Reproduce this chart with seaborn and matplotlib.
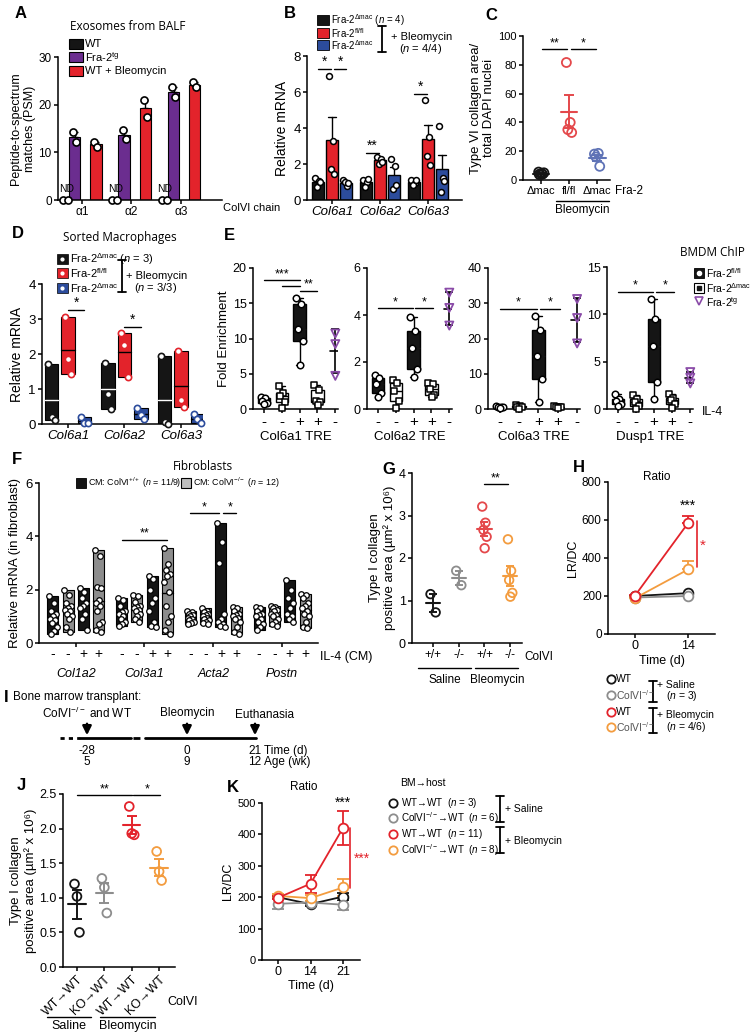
import numpy as np
import pandas as pd
import matplotlib.pyplot as plt
import seaborn as sns
from matplotlib.patches import Rectangle

# ---------------- data ----------------
# A: exosomes from BALF (PSM)
chains = ['α1', 'α2', 'α3']
a_wt_pts = [[0, 0], [0, 0], [0, 0]]
a_tg_pts = [[14.2, 12.2], [14.7, 12.7], [23.7, 21.7]]
a_bleo_pts = [[12.2, 11.2], [21.0, 17.4], [24.7, 23.7]]

# B: relative mRNA (whole lung)
genes_b = ['Col6a1', 'Col6a2', 'Col6a3']
b_dmac = [[1.2, 1.05, 0.75, 1.0], [1.1, 1.0, 0.75, 1.15], [1.1, 0.95, 0.85, 1.1]]
b_flfl_bleo = [[6.9, 3.3, 1.74, 1.44], [2.4, 2.3, 2.0, 2.1], [5.55, 3.5, 2.46, 1.96]]
b_dmac_bleo = [[1.1, 0.8, 1.0, 0.95], [2.3, 1.9, 0.6, 0.85], [4.1, 1.2, 0.42, 1.08]]

# C: type VI collagen area
c_labels = ['Δmac', 'fl/fl', 'Δmac']
c_dmac = [5.5, 4.0, 3.5, 5.0, 4.5, 4.0]
c_flfl_bleo = [81.6, 40.0, 35.0, 33.0]
c_dmac_bleo = [18.0, 18.5, 16.0, 9.5]

# D: sorted macrophages
d_dmac = [[1.72, 0.19, 0.11], [1.75, 0.85, 0.43], [1.95, 0.06, 0.01]]
d_flfl_bleo = [[3.05, 1.85, 1.43], [2.6, 2.27, 1.33], [2.1, 0.7, 0.48]]
d_dmac_bleo = [[0.2, 0.03, 0.03], [0.45, 0.27, 0.15], [0.28, 0.15, 0.02]]

# E: BMDM ChIP (fl/fl -, dmac -, fl/fl +, dmac +, tg -)
e_signs = ['-', '-', '+', '+', '-']
e_col6a1 = [[1.7, 1.5, 1.2, 0.9, 0.7], [3.2, 2.3, 1.8, 1.0, 0.2], [15.7, 14.9, 11.4, 9.6, 6.2],
            [3.4, 2.7, 1.2, 1.0, 0.5], [10.7, 4.7, 9.2]]
e_col6a2 = [[1.43, 1.3, 1.05, 0.7, 0.5], [1.25, 1.1, 0.75, 0.35, 0.05], [3.9, 3.3, 2.6, 1.7, 1.35],
            [1.1, 1.05, 0.85, 0.6, 0.5], [4.95, 3.55, 4.3]]
e_col6a3 = [[0.8, 0.7, 0.6, 0.5, 0.4], [1.0, 0.8, 0.6, 0.5, 0.1], [26.5, 22.5, 14.9, 8.5, 1.9],
            [0.9, 0.7, 0.6, 0.5, 0.3], [31.2, 18.6, 25.8]]
e_dusp1 = [[1.6, 1.1, 0.8, 0.5, 0.3], [1.5, 1.1, 0.7, 0.3, 0.05], [11.6, 9.5, 6.7, 2.9, 1.1],
           [1.6, 1.2, 0.9, 0.5, 0.1], [3.9, 2.7, 3.3]]

# F: fibroblasts (ColVI+/+ -, ColVI-/- -, ColVI+/+ +, ColVI-/- +)
genes_f = ['Col1a2', 'Col3a1', 'Acta2', 'Postn']
f_signs = ['-', '-', '+', '+']
f_col1a2 = [[1.78, 1.5, 1.2, 1.1, 1.0, 0.9, 0.85, 0.75, 0.6, 0.45, 0.35],
            [2.0, 1.8, 1.5, 1.4, 1.3, 1.25, 1.2, 1.1, 1.0, 0.9, 0.6, 0.4],
            [2.05, 1.9, 1.7, 1.5, 1.4, 1.3, 1.1, 0.9, 0.5],
            [3.5, 3.25, 2.1, 2.05, 1.6, 1.5, 1.4, 1.2, 0.8, 0.7, 0.5, 0.4]]
f_col3a1 = [[1.7, 1.6, 1.4, 1.2, 1.15, 1.1, 1.0, 0.9, 0.8, 0.7, 0.65],
            [1.8, 1.75, 1.55, 1.4, 1.35, 1.3, 1.25, 1.2, 1.1, 1.0, 0.9, 0.8],
            [2.5, 2.4, 2.0, 1.7, 1.5, 1.2, 0.8, 0.65, 0.6],
            [3.55, 2.95, 2.75, 2.6, 2.5, 2.3, 1.9, 1.4, 1.0, 0.8, 0.5, 0.35]]
f_acta2 = [[1.2, 1.15, 1.1, 1.05, 1.0, 0.95, 0.9, 0.85, 0.8, 0.75, 0.7],
           [1.3, 1.2, 1.15, 1.1, 1.05, 1.0, 0.95, 0.9, 0.85, 0.8, 0.75, 0.7],
           [4.5, 3.8, 3.0, 1.1, 0.9, 0.8, 0.7, 0.65, 0.6],
           [1.35, 1.3, 1.2, 1.1, 1.05, 1.0, 0.95, 0.9, 0.8, 0.6, 0.4, 0.35]]
f_postn = [[1.35, 1.3, 1.2, 1.1, 1.05, 1.0, 0.9, 0.8, 0.7, 0.6, 0.5],
           [1.4, 1.35, 1.3, 1.25, 1.2, 1.1, 1.05, 1.0, 0.9, 0.8, 0.7, 0.65],
           [2.35, 2.0, 1.7, 1.5, 1.3, 1.1, 1.0, 0.9, 0.8],
           [1.85, 1.8, 1.7, 1.5, 1.4, 1.3, 1.2, 1.1, 1.0, 0.8, 0.6, 0.55]]

# G: type I collagen, ColVI KO mice
g_labels = ['+/+', '-/-', '+/+', '-/-']
g_wt_saline = [1.15, 0.72]
g_ko_saline = [1.70, 1.36]
g_wt_bleo = [3.21, 2.83, 2.66, 2.50, 2.23]
g_ko_bleo = [2.44, 1.70, 1.48, 1.18, 1.09]

# H: LR/DC ratio
h_times = ['0', '14']
h_wt_saline = [200, 215]
h_ko_saline = [192, 200]
h_wt_bleo = [200, 585]
h_ko_bleo = [188, 340]
h_sem_wt_bleo = [5, 35]
h_sem_ko_bleo = [5, 45]

# J: type I collagen, BM transplant
j_labels = ['WT→WT', 'KO→WT', 'WT→WT', 'KO→WT']
j_wt_saline = [1.20, 1.02, 0.50]
j_ko_saline = [1.28, 1.15, 0.78]
j_wt_bleo = [2.32, 1.93, 1.91]
j_ko_bleo = [1.67, 1.38, 1.25]

# K: LR/DC ratio, BM transplant
k_times = ['0', '14', '21']
k_wt_saline = [200, 178, 202]
k_ko_saline = [179, 183, 176]
k_wt_bleo = [198, 243, 421]
k_ko_bleo = [204, 197, 231]
k_sem_wt_saline = [4, 5, 12]
k_sem_ko_saline = [15, 5, 17]
k_sem_wt_bleo = [5, 29, 55]
k_sem_ko_bleo = [5, 10, 28]

# ---------------- style ----------------
sns.set_style("ticks")
plt.rcParams['font.family'] = ['Liberation Sans', 'DejaVu Sans']
plt.rcParams['mathtext.fontset'] = 'custom'
plt.rcParams['mathtext.rm'] = 'Liberation Sans'
plt.rcParams['mathtext.it'] = 'Liberation Sans:italic'
plt.rcParams['mathtext.bf'] = 'Liberation Sans:bold'
for k in ['text.color', 'axes.labelcolor', 'xtick.color', 'ytick.color', 'axes.edgecolor']:
    plt.rcParams[k] = 'black'
plt.rcParams['axes.linewidth'] = 1.1
plt.rcParams['xtick.major.width'] = 1.1
plt.rcParams['ytick.major.width'] = 1.1
plt.rcParams['xtick.major.size'] = 3
plt.rcParams['ytick.major.size'] = 3
plt.rcParams['xtick.major.pad'] = 1.5
plt.rcParams['ytick.major.pad'] = 1.5

BLK = '#151515'
PURPLE = '#6b2d8f'
RED = '#e3232b'
BLUE = '#2c4c9c'
GRAY = '#8d8d8d'
LRED = '#e4484b'
LBLUE = '#5f73b6'
ORANGE = '#f39c3f'
TRI = '#8a4ba8'
TITLE_FONT = ['Open Sans', 'DejaVu Sans']

W, H = 753, 1036
fig = plt.figure(figsize=(W / 100, H / 100), dpi=100)

ov = fig.add_axes([0, 0, 1, 1])
ov.set_xlim(0, W)
ov.set_ylim(H, 0)
ov.axis('off')
ov.set_zorder(10)


def axpx(x0, y0, x1, y1, fs=9):
    ax = fig.add_axes([x0 / W, 1 - y1 / H, (x1 - x0) / W, (y1 - y0) / H])
    ax.set_facecolor('none')
    sns.despine(ax=ax)
    ax.tick_params(labelsize=fs)
    return ax


def sup(base, s):
    return base + r'$^{\mathrm{' + s + '}}$'


def spread(n, w):
    if n == 1:
        return np.zeros(1)
    if n <= 3:
        return np.linspace(-w / 2, w / 2, n)
    o = (np.arange(n) * 0.618034) % 1
    return (o - o.mean()) * w


def sig(ax, x0, x1, y, txt, color='black', fs=9):
    ax.plot([x0, x1], [y, y], color=color, lw=1, clip_on=False)
    if txt:
        ax.text((x0 + x1) / 2, y, txt, ha='center', va='bottom', fontsize=fs, color=color)


def T(x, y, s, **kw):
    kw.setdefault('va', 'center')
    kw.setdefault('fontsize', 8)
    ov.text(x, y, s, **kw)


def bracket(x, y0, y1, w=4):
    ov.plot([x, x], [y0, y1], color='black', lw=1.3)
    ov.plot([x - w, x + w], [y0, y0], color='black', lw=1.3)
    ov.plot([x - w, x + w], [y1, y1], color='black', lw=1.3)


def open_pts(ax, x, y, c, s=36, marker='o', lw=1.3):
    sns.scatterplot(x=np.asarray(x, float), y=np.asarray(y, float), ax=ax, marker=marker, color=c,
                    facecolor='none', edgecolor=c, linewidth=lw, s=s, zorder=4, clip_on=False, legend=False)


def white_pts(ax, x, y, ec='black', s=22, marker='o', lw=1.0):
    sns.scatterplot(x=np.asarray(x, float), y=np.asarray(y, float), ax=ax, marker=marker, color='white',
                    edgecolor=ec, linewidth=lw, s=s, zorder=4, clip_on=False, legend=False)


def mean_sem(ax, i, vals, c, mw=0.27, cap=3):
    v = np.asarray(vals, float)
    m, se = v.mean(), v.std(ddof=1) / np.sqrt(len(v))
    ax.plot([i - mw, i + mw], [m, m], color=c, lw=1.5, zorder=3)
    ax.errorbar(i, m, yerr=se, fmt='none', ecolor=c, elinewidth=1.4, capsize=cap, capthick=1.4, zorder=3)


def float_bar(ax, x, vals, w, fc, line_c=None, ec='black'):
    lo, hi = min(vals), max(vals)
    ax.bar(x, hi - lo, bottom=lo, width=w, color=fc, edgecolor=ec, lw=0.8, zorder=2)
    if line_c:
        ax.plot([x - w / 2, x + w / 2], [np.mean(vals)] * 2, color=line_c, lw=1, zorder=2.5)


# ---------------- A ----------------
axA = axpx(58, 57, 222, 200, fs=8.5)
xA = np.arange(len(chains))
offA = [-0.34, -0.15, 0.28]
for off, pts, col in [(offA[1], a_tg_pts, PURPLE), (offA[2], a_bleo_pts, RED)]:
    p = np.array(pts)
    m = p.mean(1)
    se = p.std(1, ddof=1) / np.sqrt(p.shape[1])
    axA.bar(xA + off, m, width=0.23, color=col, edgecolor='black', lw=0.8, zorder=2)
    axA.errorbar(xA + off, m, yerr=[np.zeros(3), se], fmt='none', ecolor='black', elinewidth=1,
                 capsize=2.5, capthick=1, zorder=1.8)
    for i in range(3):
        white_pts(axA, xA[i] + off + np.array([-0.03, 0.03]), p[i], s=26, lw=1.2)
for i in range(3):
    white_pts(axA, xA[i] + offA[0] + np.array([-0.05, 0.05]), a_wt_pts[i], s=26, lw=1.2)
    axA.text(xA[i] + offA[0] + 0.02, 1.3, 'ND', ha='center', va='bottom', fontsize=7.5)
axA.set_xlim(-0.485, 2.83)
axA.set_ylim(0, 30)
axA.set_yticks([0, 10, 20, 30])
axA.set_xticks(xA)
axA.set_xticklabels(chains)
axA.set_ylabel('Peptide-to-spectrum\nmatches (PSM)', fontsize=9, labelpad=2)
T(223, 208, 'ColVI chain', fontsize=8)
T(128, 26, 'Exosomes from BALF', ha='center', fontsize=8.5, family=TITLE_FONT)
for y, c, lab in [(44, BLK, 'WT'), (57, PURPLE, sup('Fra-2', 'tg')), (71, RED, 'WT + Bleomycin')]:
    ov.add_patch(Rectangle((69, y - 5), 14, 10, facecolor=c, edgecolor='black', lw=0.8))
    T(85, y, lab, fontsize=8)

# ---------------- B ----------------
axB = axpx(307, 56, 462, 200, fs=9.5)
b_keys = ['ctrl', 'flfl', 'dmac']
rows = []
for gi, g in enumerate(genes_b):
    for key, vals in zip(b_keys, [b_dmac, b_flfl_bleo, b_dmac_bleo]):
        for v in vals[gi]:
            rows.append((g, key, v))
dfB = pd.DataFrame(rows, columns=['gene', 'grp', 'val'])
sns.barplot(data=dfB, x='gene', y='val', hue='grp', order=genes_b, hue_order=b_keys,
            palette=dict(zip(b_keys, [BLK, RED, BLUE])), width=0.875, gap=0.2, errorbar='se',
            capsize=0.45, err_kws={'color': 'black', 'linewidth': 1, 'zorder': 0.5},
            edgecolor='black', linewidth=1, saturation=1, legend=False, ax=axB)
for gi in range(3):
    for k, vals in enumerate([b_dmac, b_flfl_bleo, b_dmac_bleo]):
        v = vals[gi]
        white_pts(axB, gi + (k - 1) * 0.875 / 3 + spread(len(v), 0.12), v, s=18, lw=1.1)
axB.set_xlim(-0.52, 2.71)
axB.set_ylim(0, 8)
axB.set_yticks([0, 2, 4, 6, 8])
axB.set_xticks(range(3))
axB.set_xticklabels(genes_b, style='italic', fontsize=9.5)
axB.set_xlabel('')
axB.set_ylabel('Relative mRNA', fontsize=10, labelpad=3)
sig(axB, -0.29, -0.03, 7.3, '*', fs=10)
sig(axB, 0.05, 0.29, 7.3, '*', fs=10)
sig(axB, 0.71, 0.98, 2.6, '**', fs=10)
sig(axB, 1.71, 1.98, 5.9, '*', fs=10)
for y, c, lab in [(20, BLK, sup('Fra-2', 'Δmac') + r' ($n$ = 4)'), (33, RED, sup('Fra-2', 'fl/fl')),
                  (45, BLUE, sup('Fra-2', 'Δmac'))]:
    ov.add_patch(Rectangle((317, y - 5), 12, 10, facecolor=c, edgecolor='black', lw=0.6))
    T(331, y, lab, fontsize=7)
bracket(382, 26, 52)
T(391, 37, '+ Bleomycin', fontsize=8)
T(399, 49, r'($n$ = 4/4)', fontsize=8)

# ---------------- C ----------------
axC = axpx(523, 36, 610, 180, fs=8)
for i, (vals, c) in enumerate([(c_dmac, BLK), (c_flfl_bleo, LRED), (c_dmac_bleo, LBLUE)]):
    open_pts(axC, i + spread(len(vals), 0.22), vals, c, s=42)
    mean_sem(axC, i, vals, c, mw=0.3, cap=3.5)
axC.set_xlim(-0.64, 2.46)
axC.set_ylim(0, 100)
axC.set_yticks(range(0, 101, 20))
axC.set_xticks(range(3))
axC.set_xticklabels(c_labels, fontsize=8)
axC.set_ylabel('Type VI collagen area/\ntotal DAPI nuclei', fontsize=9.5, labelpad=2)
sig(axC, 0.05, 0.93, 91, '**')
sig(axC, 1.07, 1.96, 91, '*')
T(615, 191, 'Fra-2', fontsize=8.5)
ov.plot([556, 609], [201, 201], color='black', lw=1)
T(582, 210, 'Bleomycin', ha='center', fontsize=8.5)

# ---------------- D ----------------
axD = axpx(42, 284, 203, 424, fs=9.5)
wD = 0.24
for gi in range(3):
    for k, (vals, c, lc) in enumerate([(d_dmac, BLK, 'white'), (d_flfl_bleo, RED, 'black'),
                                       (d_dmac_bleo, BLUE, 'black')]):
        x = gi + (k - 1) * 0.29
        float_bar(axD, x, vals[gi], wD, c, lc)
        white_pts(axD, x + spread(3, 0.12), vals[gi], ec=c, s=20, lw=1.2)
axD.set_xlim(-0.46, 2.39)
axD.set_ylim(0, 4)
axD.set_yticks(range(5))
axD.set_xticks(range(3))
axD.set_xticklabels(genes_b, style='italic', fontsize=9.5)
axD.set_ylabel('Relative mRNA', fontsize=10, labelpad=3)
sig(axD, 0.0, 0.29, 3.26, '*', fs=10)
sig(axD, 1.0, 1.29, 2.77, '*', fs=10)
T(120, 238, 'Sorted Macrophages', ha='center', fontsize=8.5, family=TITLE_FONT)
for y, c, lab in [(259, BLK, sup('Fra-2', 'Δmac') + r' ($n$ = 3)'), (273, RED, sup('Fra-2', 'fl/fl')),
                  (288, BLUE, sup('Fra-2', 'Δmac'))]:
    ov.add_patch(Rectangle((57, y - 5), 11, 10, facecolor=c, edgecolor='black', lw=0.5))
    ov.plot(62.5, y, 'o', ms=2, color='white')
    T(70, y, lab, fontsize=8)
bracket(122, 260, 292)
T(126, 276, '+ Bleomycin', fontsize=8)
T(134, 288, r'($n$ = 3/3)', fontsize=8)

# ---------------- E ----------------
e_pos = ['p0', 'p1', 'p2', 'p3', 'p4']


def e_panel(ax, groups, ymax, yticks, title, sigs):
    rows = [(e_pos[i], v) for i, g in enumerate(groups[:4]) for v in g]
    df = pd.DataFrame(rows, columns=['pos', 'val'])
    sns.boxplot(data=df[df.pos.isin(['p0', 'p2'])], x='pos', y='val', order=e_pos, color=BLK,
                linecolor='black', linewidth=1, width=0.68, whis=(0, 100), fliersize=0,
                saturation=1, medianprops={'color': BLK}, ax=ax)
    sns.boxplot(data=df[df.pos.isin(['p1', 'p3'])], x='pos', y='val', order=e_pos, color='white',
                linecolor='black', linewidth=1, width=0.68, whis=(0, 100), fliersize=0,
                saturation=1, ax=ax)
    for i, g in enumerate(groups[:4]):
        white_pts(ax, i + spread(len(g), 0.4), g, marker='o' if i % 2 == 0 else 's', s=22, lw=1.1)
    tg = np.array(groups[4], float)
    open_pts(ax, [4] * len(tg), tg, TRI, s=34, marker='v', lw=1.3)
    m, sd = tg.mean(), tg.std(ddof=1)
    ax.plot([3.7, 4.3], [m, m], color='black', lw=1.2, zorder=3)
    ax.errorbar(4, m, yerr=sd, fmt='none', ecolor='black', elinewidth=1.2, capsize=3, capthick=1.2, zorder=3)
    ax.set_xlim(-0.6, 4.15)
    ax.set_ylim(0, ymax)
    ax.set_yticks(yticks)
    ax.set_xticks(range(5))
    ax.set_xticklabels(e_signs, fontsize=11)
    ax.set_xlabel(title, fontsize=9.5, labelpad=1)
    ax.set_ylabel('')
    for x0, x1, y, t in sigs:
        sig(ax, x0, x1, y, t)


axE1 = axpx(253, 268, 338, 409)
e_panel(axE1, e_col6a1, 20, [0, 5, 10, 15, 20], 'Col6a1 TRE',
        [(0, 2, 18.3, '***'), (1, 2, 17.5, ''), (2.05, 3, 16.8, '**')])
axE1.set_ylabel('Fold Enrichment', fontsize=9.5, labelpad=2)
axE2 = axpx(367, 268, 452, 409)
e_panel(axE2, e_col6a2, 6, [0, 2, 4, 6], 'Col6a2 TRE', [(0, 1.95, 4.3, '*'), (2.1, 3.1, 4.3, '*')])
axE3 = axpx(488, 268, 580, 409)
e_panel(axE3, e_col6a3, 40, [0, 10, 20, 30, 40], 'Col6a3 TRE', [(0, 1.95, 28.5, '*'), (2.1, 3.1, 28.5, '*')])
axE4 = axpx(607, 267, 693, 409)
e_panel(axE4, e_dusp1, 15, [0, 5, 10, 15], 'Dusp1 TRE', [(0, 1.95, 12.4, '*'), (2.1, 3.1, 12.4, '*')])
T(702, 412, 'IL-4', fontsize=9)
T(712, 252, 'BMDM ChIP', ha='center', fontsize=8.5, family=TITLE_FONT)
ov.add_patch(Rectangle((694, 268), 10, 10, facecolor=BLK, edgecolor='black', lw=0.6))
ov.plot(699, 273, 'o', ms=3, color='white')
ov.add_patch(Rectangle((694, 283), 10, 10, facecolor='white', edgecolor='black', lw=0.8))
ov.plot(699, 288, 's', ms=2.5, color=BLK)
ov.plot(699, 301, 'v', ms=6, mfc='none', mec=TRI, mew=1.2)
T(706, 273, sup('Fra-2', 'fl/fl'), fontsize=7.5)
T(706, 288, sup('Fra-2', 'Δmac'), fontsize=7.5)
T(706, 302, sup('Fra-2', 'tg'), fontsize=7.5)

# ---------------- F ----------------
axF = axpx(39, 483, 318, 643, fs=9.5)
f_all = [f_col1a2, f_col3a1, f_acta2, f_postn]
f_cols = [BLK, GRAY, BLK, GRAY]
for gi, gene in enumerate(f_all):
    for j, vals in enumerate(gene):
        x = gi * 4.5 + j
        float_bar(axF, x, vals, 0.72, f_cols[j], 'black' if j % 2 else None)
        white_pts(axF, x + spread(len(vals), 0.5), vals, s=16, lw=0.9)
axF.set_xlim(-0.9, 17.35)
axF.set_ylim(0, 6)
axF.set_yticks([0, 2, 4, 6])
centers = [gi * 4.5 + 1.5 for gi in range(4)]
axF.set_xticks(centers)
axF.set_xticklabels(genes_f, style='italic', fontsize=9)
axF.tick_params(axis='x', pad=15)
for gi in range(4):
    for j in range(4):
        axF.text(gi * 4.5 + j, -0.42, f_signs[j], ha='center', va='center', fontsize=10)
T(320, 657, 'IL-4 (CM)', fontsize=9)
axF.set_ylabel('Relative mRNA (in fibroblast)', fontsize=9.5, labelpad=3)
sig(axF, 4.5, 7.5, 3.87, '**')
sig(axF, 9, 10.85, 4.87, '*')
sig(axF, 11.15, 12, 4.87, '*')
T(203, 466, 'Fibroblasts', ha='center', fontsize=8.5, family=TITLE_FONT)
ov.add_patch(Rectangle((76, 478), 10, 10, facecolor=BLK, edgecolor='black', lw=0.6))
T(88, 483, 'CM: ' + sup('ColVI', '+/+') + r' ($n$ = 11/9)', fontsize=6.4)
ov.add_patch(Rectangle((181, 478), 10, 10, facecolor='#bdbdbd', edgecolor='black', lw=0.8))
T(193, 483, 'CM: ' + sup('ColVI', '-/-') + r' ($n$ = 12)', fontsize=6.4)

# ---------------- G ----------------
axG = axpx(412, 473, 522, 643, fs=9)
for i, (vals, c) in enumerate([(g_wt_saline, BLK), (g_ko_saline, GRAY), (g_wt_bleo, LRED), (g_ko_bleo, ORANGE)]):
    open_pts(axG, i + spread(len(vals), 0.2), vals, c, s=38)
    mean_sem(axG, i, vals, c, mw=0.28, cap=3)
axG.set_xlim(-0.82, 3.46)
axG.set_ylim(0, 4)
axG.set_yticks(range(5))
axG.set_xticks(range(4))
axG.set_xticklabels(g_labels, fontsize=8.5)
axG.set_ylabel('Type I collagen\npositive area (µm² x 10⁶)', fontsize=9.5, labelpad=2)
sig(axG, 2.0, 2.9, 3.74, '**')
T(524, 657, 'ColVI', fontsize=8.5)
ov.plot([418, 471], [668, 668], color='black', lw=1)
T(445, 680, 'Saline', ha='center', fontsize=8.5)
ov.plot([475, 518], [668, 668], color='black', lw=1)
T(497, 680, 'Bleomycin', ha='center', fontsize=8.5)

# ---------------- H ----------------
axH = axpx(608, 482, 715, 634, fs=8.5)
xH = np.arange(len(h_times))
for vals, c in [(h_wt_saline, BLK), (h_ko_saline, GRAY), (h_ko_bleo, ORANGE), (h_wt_bleo, RED)]:
    sns.lineplot(x=xH, y=vals, ax=axH, color=c, lw=1.3, marker='o', markersize=7,
                 markerfacecolor='white', markeredgecolor=c, markeredgewidth=1.3, zorder=3)
for vals, se, c in [(h_wt_bleo, h_sem_wt_bleo, RED), (h_ko_bleo, h_sem_ko_bleo, ORANGE)]:
    axH.errorbar(xH, vals, yerr=[np.zeros(2), se], fmt='none', ecolor=c, elinewidth=1.3,
                 capsize=4, capthick=1.3, zorder=2)
axH.set_xlim(-0.5, 1.5)
axH.set_ylim(0, 800)
axH.set_yticks(range(0, 801, 200))
axH.set_xticks(xH)
axH.set_xticklabels(h_times, fontsize=9)
axH.set_xlabel('Time (d)', fontsize=9, labelpad=2)
axH.set_ylabel('LR/DC', fontsize=9, labelpad=2)
axH.text(1, 640, '***', ha='center', va='bottom', fontsize=10)
axH.plot([1.16, 1.16], [352, 595], color=RED, lw=1.2)
axH.text(1.27, 465, '*', ha='center', va='center', fontsize=11, color=RED)
T(657, 477, 'Ratio', ha='center', fontsize=8.5)
for y, c, lab in [(679, BLK, 'WT'), (695, GRAY, sup('ColVI', '-/-')), (712, RED, 'WT'),
                  (727, ORANGE, sup('ColVI', '-/-'))]:
    ov.plot(611, y, 'o', ms=6, mfc='white', mec=c, mew=1.3)
    T(616, y, lab, fontsize=7.5, color='#555555' if 'ColVI' in lab else 'black')
bracket(653, 681, 702)
bracket(653, 708, 733)
T(657, 685, '+ Saline', fontsize=7.5)
T(666, 696, r'($n$ = 3)', fontsize=7.5)
T(657, 715, '+ Bleomycin', fontsize=7.5)
T(666, 727, r'($n$ = 4/6)', fontsize=7.5)

# ---------------- I ----------------
T(4, 697, 'I', fontsize=12, fontweight='bold')
T(13, 697, 'Bone marrow transplant:', fontsize=8.5)
ov.plot([60, 80], [738, 738], color='black', lw=2, ls=(0, (1.5, 1.5)))
ov.plot([80, 131], [738, 738], color='black', lw=2)
ov.plot([133, 143], [738, 738], color='black', lw=2, ls=(0, (2.5, 1.5, 1, 1.5)))
ov.plot([145, 256], [738, 738], color='black', lw=2)
for x, lab in [(87, sup('ColVI', '-/-') + ' and WT'), (187, 'Bleomycin'), (255, 'Euthanasia')]:
    ov.annotate('', xy=(x, 738), xytext=(x, 721),
                arrowprops=dict(arrowstyle='-|>', color='black', lw=1.8, mutation_scale=13))
    T(x if x < 250 else 265, 713 if x < 250 else 715, lab, ha='center', fontsize=8.5)
for x, t1, t2 in [(87, '-28', '5'), (187, '0', '9'), (255, '21', '12')]:
    T(x, 751, t1, ha='center', fontsize=8.5)
    T(x, 762, t2, ha='center', fontsize=8.5)
T(264, 751, 'Time (d)', fontsize=8.5)
T(264, 762, 'Age (wk)', fontsize=8.5)

# ---------------- J ----------------
axJ = axpx(63, 794, 175, 967, fs=9)
for i, (vals, c) in enumerate([(j_wt_saline, BLK), (j_ko_saline, GRAY), (j_wt_bleo, RED), (j_ko_bleo, ORANGE)]):
    open_pts(axJ, i + spread(len(vals), 0.18), vals, c, s=40)
    mean_sem(axJ, i, vals, c, mw=0.32, cap=3.5)
axJ.set_xlim(-0.51, 3.58)
axJ.set_ylim(0, 2.5)
axJ.set_yticks(np.arange(0, 2.6, 0.5))
axJ.set_yticklabels(['0.0', '0.5', '1.0', '1.5', '2.0', '2.5'])
axJ.set_xticks(range(4))
axJ.set_xticklabels(j_labels, rotation=45, ha='right', rotation_mode='anchor', fontsize=9)
axJ.set_ylabel('Type I collagen\npositive area (µm² x 10⁶)', fontsize=9.5, labelpad=2)
sig(axJ, 0, 2, 2.48, '**')
sig(axJ, 2.06, 3.05, 2.48, '*')
T(167, 1002, 'ColVI', fontsize=9)
ov.plot([47, 91], [1017, 1017], color='black', lw=1)
T(69, 1026, 'Saline', ha='center', fontsize=9)
ov.plot([100, 155], [1017, 1017], color='black', lw=1)
T(128, 1026, 'Bleomycin', ha='center', fontsize=9)

# ---------------- K ----------------
axK = axpx(262, 803, 360, 960, fs=8)
xK = np.arange(len(k_times))
for vals, se, c in [(k_wt_saline, k_sem_wt_saline, BLK), (k_ko_saline, k_sem_ko_saline, GRAY),
                    (k_ko_bleo, k_sem_ko_bleo, ORANGE), (k_wt_bleo, k_sem_wt_bleo, RED)]:
    axK.errorbar(xK, vals, yerr=se, fmt='none', ecolor=c, elinewidth=1.3, capsize=4, capthick=1.3, zorder=2)
    sns.lineplot(x=xK, y=vals, ax=axK, color=c, lw=1.3, marker='o', markersize=7,
                 markerfacecolor='white', markeredgecolor=c, markeredgewidth=1.3, zorder=3)
axK.set_xlim(-0.49, 2.52)
axK.set_ylim(0, 500)
axK.set_yticks(range(0, 501, 100))
axK.set_xticks(xK)
axK.set_xticklabels(k_times, fontsize=9)
axK.set_xlabel('Time (d)', fontsize=9, labelpad=1)
axK.set_ylabel('LR/DC', fontsize=9, labelpad=2)
axK.text(2, 478, '***', ha='center', va='bottom', fontsize=10)
axK.plot([2.2, 2.2], [229, 420], color=RED, lw=1.2)
axK.text(2.58, 322, '***', ha='center', va='center', fontsize=10, color=RED)
T(304, 787, 'Ratio', ha='center', fontsize=8.5)
T(423, 783, 'BM→host', ha='center', fontsize=7.5)
for y, c, lab in [(803, BLK, r'WT→WT  ($n$ = 3)'), (818, GRAY, sup('ColVI', '-/-') + r'→WT  ($n$ = 6)'),
                  (834, RED, r'WT→WT  ($n$ = 11)'), (850, ORANGE, sup('ColVI', '-/-') + r'→WT  ($n$ = 8)')]:
    ov.plot(393, y, 'o', ms=6, mfc='white', mec=c, mew=1.3)
    T(401, y, lab, fontsize=7.1)
bracket(500, 796, 822)
bracket(500, 827, 853)
T(505, 809, '+ Saline', fontsize=7.5)
T(505, 841, '+ Bleomycin', fontsize=7.5)

# ---------------- panel letters ----------------
for x, y, s in [(15, 14, 'A'), (284, 13, 'B'), (485, 15, 'C'), (12, 234, 'D'), (224, 236, 'E'),
                (12, 460, 'F'), (382, 470, 'G'), (573, 468, 'H'), (17, 786, 'J'), (227, 787, 'K')]:
    T(x, y, s, fontsize=12, fontweight='bold')

fig.savefig('out.png', dpi=100)
